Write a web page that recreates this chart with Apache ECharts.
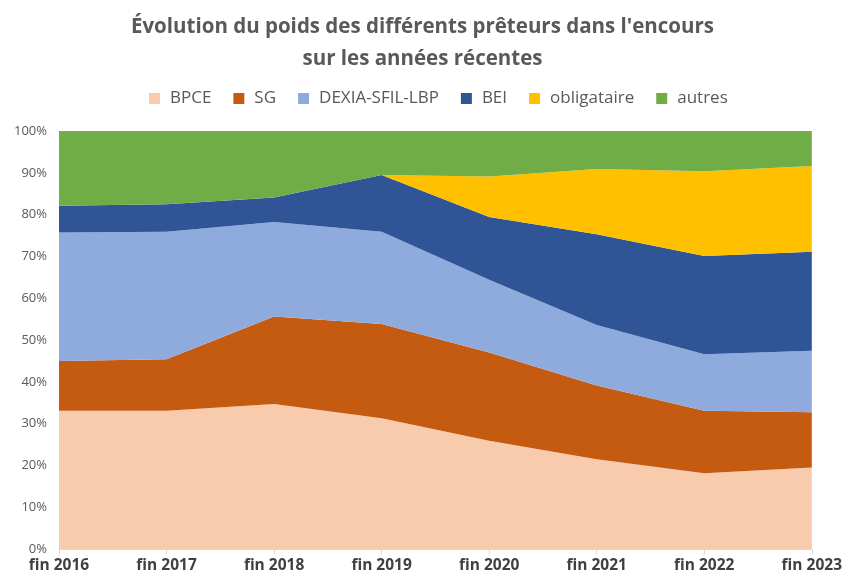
<!DOCTYPE html>
<html>
<head>
<meta charset="utf-8">
<script src="https://cdn.jsdelivr.net/npm/echarts@6/dist/echarts.min.js"></script>
<style>
  html, body { margin: 0; padding: 0; background: #fff; }
  #chart { width: 845px; height: 579px; }
</style>
</head>
<body>
<div id="chart"></div>
<script>
var years = ['fin 2016', 'fin 2017', 'fin 2018', 'fin 2019', 'fin 2020', 'fin 2021', 'fin 2022', 'fin 2023'];

// parts in % of the outstanding debt
var bpce = [33.1, 33.1, 34.7, 31.3, 25.9, 21.5, 18.1, 19.5];
var sg = [11.9, 12.3, 20.9, 22.5, 21.1, 17.6, 15.0, 13.2];
var dexia = [30.7, 30.5, 22.6, 22.1, 17.4, 14.5, 13.5, 14.7];
var bei = [6.4, 6.6, 5.9, 13.6, 15.0, 21.7, 23.5, 23.7];
var obligataire = [0, 0, 0, 0, 9.7, 15.6, 20.3, 20.5];
var autres = [17.9, 17.5, 15.9, 10.5, 10.9, 9.1, 9.6, 8.4];

var font = 'Open Sans';

function area(name, data, color) {
    return {
        name: name,
        type: 'line',
        stack: 'total',
        data: data,
        symbol: 'none',
        lineStyle: { width: 0 },
        areaStyle: { color: color, opacity: 1 },
        itemStyle: { color: color },
        emphasis: { disabled: true }
    };
}

var myChart = echarts.init(document.getElementById('chart'));
myChart.setOption({
    animation: false,
    title: {
        text: "Évolution du poids des différents prêteurs dans l'encours\nsur les années récentes",
        left: 'center',
        top: 6,
        textStyle: {
            fontFamily: font,
            fontSize: 20.5,
            fontWeight: 'bold',
            color: '#595959',
            lineHeight: 32
        }
    },
    legend: {
        top: 85,
        left: 144,
        itemWidth: 11,
        itemHeight: 11,
        itemGap: 22,
        icon: 'rect',
        textStyle: { fontFamily: font, fontSize: 17, color: '#595959', padding: [0, 0, 0, 5] },
        data: ['BPCE', 'SG', 'DEXIA-SFIL-LBP', 'BEI', 'obligataire', 'autres']
    },
    grid: { left: 59, right: 33, top: 131, bottom: 30 },
    xAxis: {
        type: 'category',
        boundaryGap: false,
        data: years,
        axisLine: { lineStyle: { color: '#d9d9d9' } },
        axisTick: { show: true, alignWithLabel: true, lineStyle: { color: '#d9d9d9' } },
        axisLabel: { fontFamily: font, fontSize: 15.5, fontWeight: 'bold', color: '#404040', margin: 9 }
    },
    yAxis: {
        type: 'value',
        min: 0,
        max: 100,
        interval: 10,
        axisLine: { show: false },
        axisTick: { show: false },
        splitLine: { show: false },
        axisLabel: { fontFamily: font, fontSize: 13, color: '#595959', formatter: '{value}%', margin: 12 }
    },
    series: [
        area('BPCE', bpce, '#F8CBAD'),
        area('SG', sg, '#C55A11'),
        area('DEXIA-SFIL-LBP', dexia, '#8FAADC'),
        area('BEI', bei, '#2F5597'),
        area('obligataire', obligataire, '#FFC000'),
        area('autres', autres, '#70AD47')
    ]
});
window.addEventListener('resize', function () {
    myChart.resize();
});
</script>
</body>
</html>
